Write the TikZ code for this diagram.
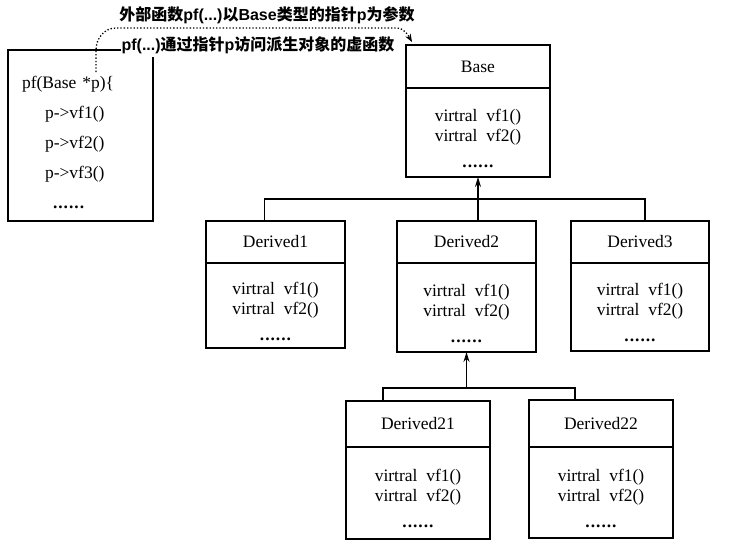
\documentclass[tikz,border=0pt]{standalone}
\usepackage{fontspec}
\setmainfont{Liberation Serif}
\setsansfont{Liberation Sans}
\newfontfamily\cjk{Noto Sans CJK SC}
\usetikzlibrary{arrows.meta,positioning}
\newcommand\lat[1]{{\sffamily\bfseries #1}}
\newcommand\more{\textbf{.\kern1pt.\kern1pt.\kern1pt.\kern1pt.\kern1pt.}}

\begin{document}
\begin{tikzpicture}[x=1pt, y=1pt,
	head/.style = {draw, line width=1.3pt, outer sep=0pt, anchor=north, font=\fontsize{17.5}{20}\selectfont},
	body/.style = {draw, line width=1.3pt, outer sep=0pt, anchor=north, align=center, font=\fontsize{17.5}{20}\selectfont},
	codebox/.style = {draw, line width=1.3pt, text width=117pt, inner xsep=14pt, minimum height=171pt, align=left, font=\fontsize{17.5}{30}\selectfont},
	note/.style = {font=\cjk\bfseries\fontsize{16}{18}\selectfont, inner xsep=1pt, inner ysep=3pt},
	inherit/.style = {line width=1.3pt, -{Stealth[length=10pt,width=6pt]}}]
	
	\useasboundingbox (0,0) rectangle (741,-551);
	
	% classes: name/title/x/y/width/head height/body height
	\foreach \n/\t/\x/\y/\w/\hh/\bh in {
		Base/Base/478/45/144/43/89,
		D1/Derived1/275.5/221/139/42/85,
		D2/Derived2/466.5/221/139/42/89,
		D3/Derived3/640/221/138/42/88,
		D21/Derived21/418/401/144/46/92,
		D22/Derived22/601/400/144/47/91}
	{
		\node[head, minimum width=\w pt, minimum height=\hh pt] (\n) at (\x,-\y) {\t};
		\node[body, minimum width=\w pt, minimum height=\bh pt] (\n-b) at (\n.south) {\rule{0pt}{24pt}virtral\ \ vf1()\\virtral\ \ vf2()\\[6pt]\more};
	}
	
	% the outer function
	\node[codebox] (code) at (80.5,-135.5) {\rule{0pt}{26pt}pf(Base *p)\{\\
		\hspace*{23pt}p->vf1()\\
		\hspace*{23pt}p->vf2()\\
		\hspace*{23pt}p->vf3()\\
		\hspace*{31pt}\more};
	\coordinate (ptr) at (96,-72);
	
	\node[note] (outer) at (267,-15) {外部函数\lat{pf(...)}以\lat{Base}类型的指针\lat{p}为参数};
	\node[note, fill=white] (via) at (258,-45) {\lat{pf(...)}通过指针\lat{p}访问派生对象的虚函数};
	
	\draw[dotted, line width=1.3pt, -{Stealth[length=8pt,width=6pt]}] (ptr) -- (96,-50) to[out=90,in=180] (116,-28) -- (396,-28) to[out=0,in=120] ([xshift=6pt,yshift=3pt]Base.north west);
	
	% inheritance
	\coordinate (bar1) at (478,-199);
	\coordinate (bar2) at (466.5,-388);
	\draw[inherit] (D2.north -| Base-b.south) -- (Base-b.south);
	\draw[line width=1.3pt] ([xshift=-11pt]D1.north) |- (bar1) -| ([xshift=5pt]D3.north);
	\draw[inherit] (bar2) -- (D2-b.south);
	\draw[line width=1.3pt] ([xshift=-35pt]D21.north) |- (bar2) -| ([xshift=-26pt]D22.north);
\end{tikzpicture}
\end{document}
